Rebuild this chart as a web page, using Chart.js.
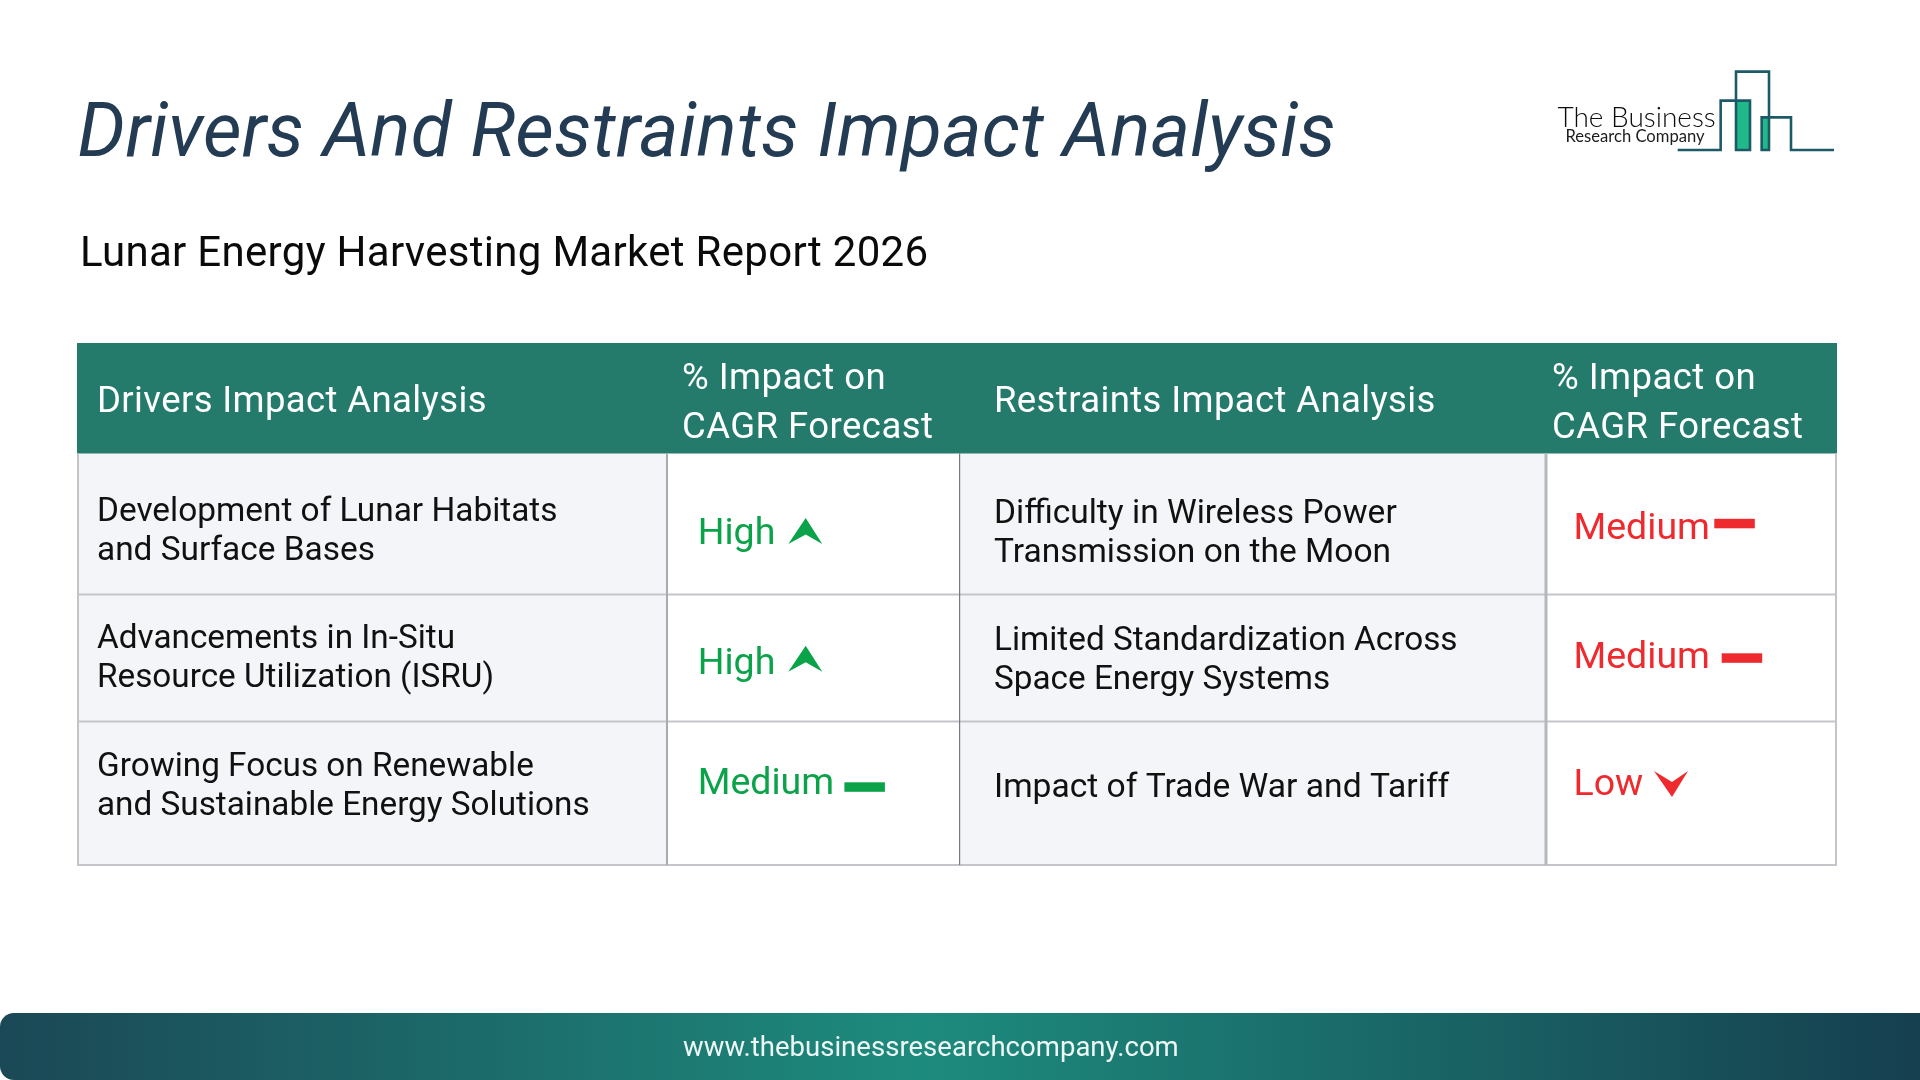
<!DOCTYPE html>
<html><head><meta charset="utf-8">
<style>html,body{margin:0;padding:0;background:#fff;overflow:hidden}canvas{display:block}</style>
<script src="https://cdn.jsdelivr.net/npm/chart.js@4"></script>
</head><body><canvas id="c" width="1920" height="1080"></canvas>
<script>
const titleText = "Drivers And Restraints Impact Analysis";
const subtitleText = "Lunar Energy Harvesting Market Report 2026";
const footerText = "www.thebusinessresearchcompany.com";
const driverHeader = "Drivers Impact Analysis";
const restraintHeader = "Restraints Impact Analysis";
const impactHeader = ["% Impact on", "CAGR Forecast"];
const drivers = [
  ["Development of Lunar Habitats", "and Surface Bases"],
  ["Advancements in In-Situ", "Resource Utilization (ISRU)"],
  ["Growing Focus on Renewable", "and Sustainable Energy Solutions"]
];
const driverImpact = ["High", "High", "Medium"];
const restraints = [
  ["Difficulty in Wireless Power", "Transmission on the Moon"],
  ["Limited Standardization Across", "Space Energy Systems"],
  ["Impact of Trade War and Tariff"]
];
const restraintImpact = ["Medium", "Medium", "Low"];

const GREEN = "#0ba34a", RED = "#ee2a2e", BORDER = "#c4c5c9";
const COL = [78, 667, 959.5, 1546, 1836];
const ROW = [343, 453.5, 594.5, 721.5, 865];

const layoutPlugin = {
  id: "tableLayout",
  afterDraw(chart) {
    const c = chart.ctx, X = v => chart.scales.x.getPixelForValue(v), Y = v => chart.scales.y.getPixelForValue(v);
    const txt = (s, x, y, font, color, ls) => {
      c.font = font; c.fillStyle = color; c.textBaseline = "alphabetic"; c.textAlign = "left";
      c.letterSpacing = (ls || 0) + "px"; c.fillText(s, X(x), Y(y)); c.letterSpacing = "0px";
    };
    const rect = (x0, y0, x1, y1, color) => { c.fillStyle = color; c.fillRect(X(x0), Y(y0), X(x1) - X(x0), Y(y1) - Y(y0)); };
    const poly = (pts, color) => { c.fillStyle = color; c.beginPath(); pts.forEach((p, i) => i ? c.lineTo(X(p[0]), Y(p[1])) : c.moveTo(X(p[0]), Y(p[1]))); c.closePath(); c.fill(); };

    // Title + subtitle
    txt(titleText, 77.5, 155.5, "italic 400 75px Roboto", "#233b53", 0.15);
    txt(subtitleText, 80, 266, "400 42px Roboto", "#0a0a0a", 0.3);

    // Logo
    c.save();
    const lx = z => 1500 + z / 3, ly = z => 40 + z / 3;
    rect(lx(710), ly(184), lx(750), ly(330), "#1fb98a");
    rect(lx(787), ly(234), lx(807), ly(330), "#1fb98a");
    c.strokeStyle = "#1c5a68"; c.lineWidth = 2.6; c.lineJoin = "miter"; c.beginPath();
    [[533,330],[662,330],[662,182],[750,182],[750,330],[708,330],[708,95],[807,95],[807,330],[785,330],[785,232],[873,232],[873,330],[1002,330]]
      .forEach((p, i) => i ? c.lineTo(X(lx(p[0])), Y(ly(p[1]))) : c.moveTo(X(lx(p[0])), Y(ly(p[1]))));
    c.stroke(); c.restore();
    txt("The Business", 1557.5, 127, "300 28px Lato", "#0c0c0e", 0);
    txt("Research Company", 1565.5, 142, "400 16.6px Lato", "#1c1c1e", 0);

    // Table cells
    rect(COL[0], ROW[1], COL[1], ROW[4], "#f3f5f8");
    rect(COL[2], ROW[1], COL[3], ROW[4], "#f3f5f8");
    rect(COL[0] - 1, ROW[0], COL[4] + 1, ROW[1], "#247b6c");
    rect(COL[0], ROW[2] - 1, COL[4], ROW[2] + 1, BORDER);
    rect(COL[0], ROW[3] - 1, COL[4], ROW[3] + 1, BORDER);
    rect(COL[0] - 1, ROW[4] - 1, COL[4] + 1, ROW[4] + 1, BORDER);
    rect(COL[0] - 1, ROW[1], COL[0] + 1, ROW[4], BORDER);
    rect(COL[1] - 1, ROW[1], COL[1] + 1, ROW[4], "#a9abb0");
    rect(COL[2] - 0.5, ROW[1], COL[2] + 0.7, ROW[4], "#77797e");
    rect(COL[3] - 1.5, ROW[1], COL[3] + 1.5, ROW[4], "#b5b7bb");
    rect(COL[4] - 1, ROW[1], COL[4] + 1, ROW[4], BORDER);

    // Header text
    const HF = "400 36.5px Roboto";
    txt(driverHeader, 97, 412, HF, "#fff", 0.38);
    txt(restraintHeader, 994, 412, HF, "#fff", 0.38);
    [682, 1552].forEach(x => { txt(impactHeader[0], x, 388.5, HF, "#fff", 0.45); txt(impactHeader[1], x, 438, HF, "#fff", 0.45); });

    // Body text
    const dBase = [521, 648, 776], rBase = [522.5, 650, 797];
    const dFont = ["400 33.4px Roboto", "400 33.3px Roboto", "400 33.3px Roboto"];
    const rFont = ["400 33.5px Roboto", "400 33.3px Roboto", "400 33.6px Roboto"];
    drivers.forEach((l, i) => l.forEach((s, j) => txt(s, 97, dBase[i] + j * 39, dFont[i], "#111", 0)));
    restraints.forEach((l, i) => l.forEach((s, j) => txt(s, 994, rBase[i] + j * 39, rFont[i], "#111", 0)));

    // Impact labels and glyphs (glyph anchor = left edge and baseline of the glyph box)
    const IF = "400 37.5px Roboto";
    const mark = (lvl, color, tx, tb, gx, gy) => {
      txt(lvl, tx, tb, IF, color, 0);
      if (lvl === "High") poly([[gx, gy], [gx + 17.4, gy - 26], [gx + 34, gy], [gx + 17.4, gy - 9.5]], color);
      else if (lvl === "Low") poly([[gx, gy - 26], [gx + 18, gy - 15], [gx + 34, gy - 26], [gx + 18, gy]], color);
      else rect(gx, gy - 9.5, gx + 40.5, gy, color);
    };
    const lT = [544, 673.5, 794], lGX = [788.3, 788.3, 844.4], lGY = [544, 671.7, 791.8];
    const rT = [538.5, 667.5, 795], rGX = [1714.3, 1721.7, 1654], rGY = [528.3, 662.8, 797];
    driverImpact.forEach((v, i) => mark(v, GREEN, 697.7, lT[i], lGX[i], lGY[i]));
    restraintImpact.forEach((v, i) => mark(v, RED, 1573.5, rT[i], rGX[i], rGY[i]));

    // Footer
    const g = c.createLinearGradient(0, 0, 1920, 0);
    g.addColorStop(0, "#1b4856"); g.addColorStop(0.48, "#1d8b7d"); g.addColorStop(1, "#163f4f");
    c.fillStyle = g; c.beginPath(); c.roundRect(X(0), Y(1013), 1920, 67, [14, 0, 0, 14]); c.fill();
    txt(footerText, 683, 1056, "400 27.5px Roboto", "#eef7f5", 0.03);
  }
};

new Chart(document.getElementById("c"), {
  type: "scatter",
  data: { datasets: [{ data: [], pointRadius: 0 }] },
  options: {
    responsive: false, animation: false, devicePixelRatio: 1,
    layout: { padding: 0 },
    plugins: { legend: { display: false }, tooltip: { enabled: false } },
    scales: {
      x: { type: "linear", min: 0, max: 1920, display: false },
      y: { type: "linear", min: 0, max: 1080, reverse: true, display: false }
    }
  },
  plugins: [layoutPlugin]
});
</script></body></html>
